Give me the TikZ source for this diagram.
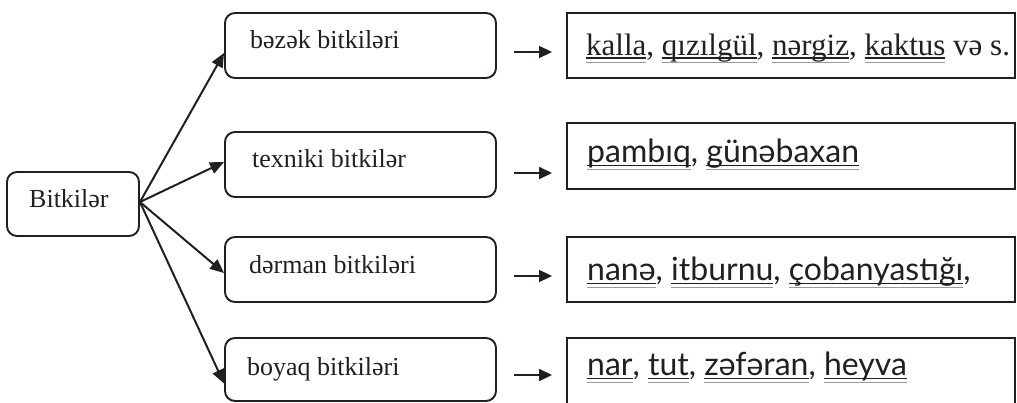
\documentclass[tikz,border=0pt]{standalone}
\usepackage{fontspec}
\setmainfont{Liberation Serif}
\newfontfamily\sansf{Lato}
\usetikzlibrary{arrows.meta}
\definecolor{ink}{HTML}{231F20}
\newsavebox\ulwbox
\newcommand\ulw[1]{\sbox\ulwbox{#1}\rlap{\color{black!40}\rule[-0.25em]{\wd\ulwbox}{0.035em}}\rlap{\rule[-0.13em]{\wd\ulwbox}{0.05em}}\usebox\ulwbox}
\begin{document}
\begin{tikzpicture}[x=1pt,y=-1pt,
  rbox/.style={draw=ink,line width=1.9pt,rounded corners=10pt,minimum width=271pt,minimum height=65pt,inner sep=0pt},
  sbox/.style={draw=ink,line width=1.9pt,minimum width=448pt,minimum height=65pt,inner sep=0pt},
  mtext/.style={anchor=base west,inner sep=0pt,text=ink,font=\fontsize{26}{30}\selectfont},
  stext/.style={anchor=base west,inner sep=0pt,text=ink,font=\sansf\fontsize{32}{36}\selectfont},
  rtext/.style={anchor=base west,inner sep=0pt,text=ink,font=\fontsize{31}{38}\selectfont},
  bigarrow/.style={draw=ink,line width=2pt,-{Triangle[length=14pt,width=12pt]}},
  smallarrow/.style={draw=ink,line width=1.8pt,-{Triangle[length=13pt,width=12pt]}}
]
\useasboundingbox (0,0) rectangle (1017,402);
% root
\node[rbox,minimum width=132pt,minimum height=64pt] (root) at (73,204) {};
\node[mtext] (troot) at (29,207) {Bitkilər};
% middle boxes
\node[rbox] (m1) at (360.5,45.5) {};
\node[rbox] (m2) at (360.5,164.5) {};
\node[rbox] (m3) at (360.5,269.5) {};
\node[rbox,minimum height=63pt] (m4) at (360.5,369.5) {};
\node[mtext] (tm1) at (250,48) {bəzək bitkiləri};
\node[mtext] (tm2) at (252,167) {texniki bitkilər};
\node[mtext] (tm3) at (249,273) {dərman bitkiləri};
\node[mtext] (tm4) at (247,375) {boyaq bitkiləri};
% right boxes
\node[sbox] (r1) at (791,45.5) {};
\node[sbox,minimum height=66pt] (r2) at (791,156) {};
\node[sbox] (r3) at (791,269.5) {};
\node[sbox,minimum height=67pt] (r4) at (791,371.5) {};
\node[rtext] (tr1) at (586,55) {\ulw{kalla}, \ulw{qızılgül}, \ulw{nərgiz}, \ulw{kaktus} və s.};
\node[stext] (tr2) at (587,162) {\ulw{pambıq}, \ulw{günəbaxan}};
\node[stext] (tr3) at (587,280) {\ulw{nanə}, \ulw{itburnu}, \ulw{çobanyastığı},};
\node[stext] (tr4) at (587,375) {\ulw{nar}, \ulw{tut}, \ulw{zəfəran}, \ulw{heyva}};
% fan arrows
\draw[bigarrow] ([yshift=2pt]root.east) -- ([yshift=-7.5pt]m1.west);
\draw[bigarrow] ([yshift=2pt]root.east) -- ([yshift=2.5pt]m2.west);
\draw[bigarrow] ([yshift=2pt]root.east) -- ([yshift=-3.5pt]m3.west);
\draw[bigarrow] ([yshift=2pt]root.east) -- ([yshift=-14pt]m4.west);
% small arrows
\coordinate (a1) at ([xshift=17pt,yshift=-6.5pt]m1.east);
\coordinate (a2) at ([xshift=17pt,yshift=-8.5pt]m2.east);
\coordinate (a3) at ([xshift=17pt,yshift=-6.5pt]m3.east);
\coordinate (a4) at ([xshift=17pt,yshift=-5.5pt]m4.east);
\coordinate (b1) at ([xshift=-14pt]a1 -| r1.west);
\coordinate (b2) at ([xshift=-14pt]a2 -| r2.west);
\coordinate (b3) at ([xshift=-14pt]a3 -| r3.west);
\coordinate (b4) at ([xshift=-14pt]a4 -| r4.west);
\draw[smallarrow] (a1) -- (b1);
\draw[smallarrow] (a2) -- (b2);
\draw[smallarrow] (a3) -- (b3);
\draw[smallarrow] (a4) -- (b4);
\end{tikzpicture}
\end{document}
